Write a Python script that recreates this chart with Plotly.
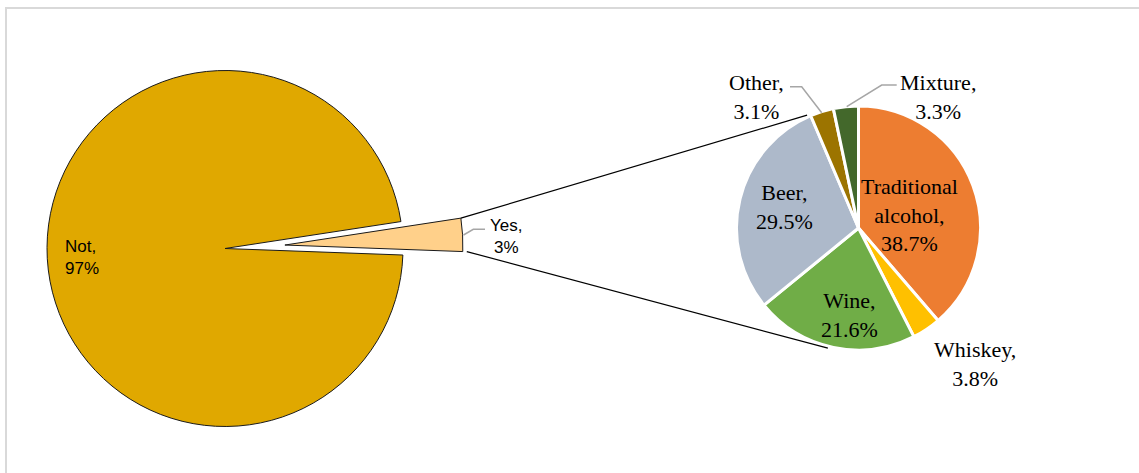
import math
import plotly.graph_objects as go

W, H = 1139, 473

# Drinking status (left pie)
status_labels = ["Yes", "Not"]
status_values = [3, 97]
status_colors = ["#FFD08A", "#E0A800"]

# Type of alcohol consumed by drinkers (right pie)
drink_labels = ["Traditional alcohol", "Whiskey", "Wine", "Beer", "Other", "Mixture"]
drink_values = [38.7, 3.8, 21.6, 29.5, 3.1, 3.3]
drink_colors = ["#ED7D31", "#FFC000", "#70AD47", "#ADB9CA", "#9C7400", "#43682B"]

CLEAR = "rgba(0,0,0,0)"


def px_x(x):
    return x / W


def px_y(y):
    return 1 - y / H


def domain(cx, cy, r):
    return dict(x=[(cx - r) / W, (cx + r) / W], y=[1 - (cy + r) / H, 1 - (cy - r) / H])


def polar(cx, cy, r, compass_deg):
    a = math.radians(compass_deg)
    return cx + r * math.sin(a), cy - r * math.cos(a)


# pie geometry in pixels
L_CX, L_CY, L_R = 225, 248.5, 178
L_ROT = 81.3          # compass angle where the "Yes" slice starts
PULL = 60             # how far the "Yes" slice is pulled out
R_CX, R_CY, R_R = 858.5, 228, 122

yes_share = status_values[0] / sum(status_values)
yes_span = 360 * yes_share
P_CX, P_CY = polar(L_CX, L_CY, PULL, L_ROT + yes_span / 2)

fig = go.Figure()

# main pie with the gap left by the pulled slice
fig.add_trace(go.Pie(
    labels=status_labels, values=status_values, sort=False,
    direction="clockwise", rotation=L_ROT,
    marker=dict(colors=[CLEAR, status_colors[1]],
                line=dict(color="#1A1A1A", width=[0, 1])),
    textinfo="none", hoverinfo="label+percent",
    domain=domain(L_CX, L_CY, L_R), showlegend=False,
))

# the pulled-out "Yes" slice
fig.add_trace(go.Pie(
    labels=status_labels, values=status_values, sort=False,
    direction="clockwise", rotation=L_ROT,
    marker=dict(colors=[status_colors[0], CLEAR],
                line=dict(color="#1A1A1A", width=[1, 0])),
    textinfo="none", hoverinfo="label+percent",
    domain=domain(P_CX, P_CY, L_R), showlegend=False,
))

# breakdown of the "Yes" slice
fig.add_trace(go.Pie(
    labels=drink_labels, values=drink_values, sort=False,
    direction="clockwise", rotation=0,
    marker=dict(colors=drink_colors, line=dict(color="#FFFFFF", width=3)),
    textinfo="none", hoverinfo="label+value",
    domain=domain(R_CX, R_CY, R_R), showlegend=False,
))

shapes = []

# chart frame
shapes.append(dict(type="rect", xref="paper", yref="paper",
                   x0=px_x(6), x1=px_x(W + 6), y0=px_y(H + 6), y1=px_y(8),
                   line=dict(color="#D9D9D9", width=2), layer="below"))

# connectors from the pulled slice to the breakdown pie
c_top = polar(P_CX, P_CY, L_R, L_ROT)
c_bot = polar(P_CX, P_CY, L_R, L_ROT + yes_span)
e_top = polar(R_CX, R_CY, R_R + 2, 335.5)
e_bot = polar(R_CX, R_CY, R_R + 2, 194.3)
for (x0, y0), (x1, y1) in [(c_top, e_top), ((c_bot[0] + 4, c_bot[1]), e_bot)]:
    shapes.append(dict(type="line", xref="paper", yref="paper",
                       x0=px_x(x0), y0=px_y(y0), x1=px_x(x1), y1=px_y(y1),
                       line=dict(color="#000000", width=1.2)))

# leader lines for outside labels
leaders = [
    [(485, 229.3), (473.3, 229.3), (463.5, 235)],
    [(790, 86.7), (801.7, 86.7), (821.7, 112.7)],
    [(896.7, 85), (881.7, 85), (846.7, 106.7)],
]
for pts in leaders:
    path = "M " + " L ".join(f"{px_x(x)},{px_y(y)}" for x, y in pts)
    shapes.append(dict(type="path", xref="paper", yref="paper", path=path,
                       line=dict(color="#A6A6A6", width=1.5)))


def label_text(name, value):
    return name.replace(" ", "<br>") + ",<br>" + f"{value:g}%"


sans = dict(family="Arial, Liberation Sans, sans-serif", size=17, color="#000000")
serif = dict(family="Times New Roman, Liberation Serif, serif", size=22, color="#000000")

status_pos = {"Not": (63, 257, "left"), "Yes": (506, 236, "center")}
drink_pos = {
    "Traditional alcohol": (909.5, 215),
    "Whiskey": (975, 364),
    "Wine": (849, 315),
    "Beer": (784, 207),
    "Other": (756, 97),
    "Mixture": (938, 97),
}

annotations = []
for name, value in zip(status_labels, status_values):
    x, y, anchor = status_pos[name]
    annotations.append(dict(x=px_x(x), y=px_y(y), xref="paper", yref="paper",
                            text=label_text(name, value), showarrow=False,
                            xanchor=anchor, yanchor="middle", align=anchor, font=sans))
for name, value in zip(drink_labels, drink_values):
    x, y = drink_pos[name]
    annotations.append(dict(x=px_x(x), y=px_y(y), xref="paper", yref="paper",
                            text=label_text(name, value), showarrow=False,
                            xanchor="center", yanchor="middle", align="center", font=serif))

fig.update_layout(
    width=W, height=H,
    margin=dict(l=0, r=0, t=0, b=0),
    paper_bgcolor="#FFFFFF", plot_bgcolor="#FFFFFF",
    shapes=shapes, annotations=annotations,
)

fig.write_html("out.html")
